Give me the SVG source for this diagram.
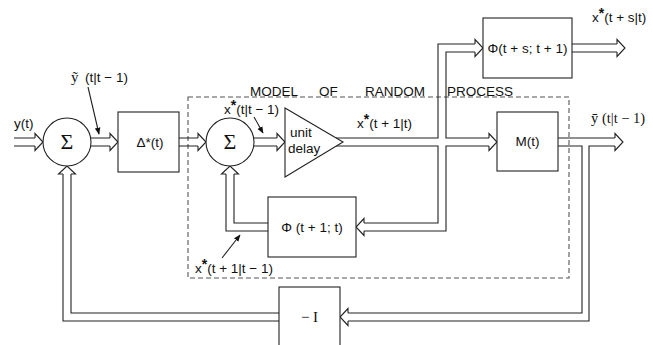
<svg xmlns="http://www.w3.org/2000/svg" width="653" height="345" viewBox="0 0 653 345">
<style>
.ln{fill:none;stroke:#222;stroke-width:1.1}
.bx{fill:#fff;stroke:#222;stroke-width:1.1}
.s{font-family:"Liberation Sans",Arial,sans-serif;font-size:13.5px;fill:#111}
.r{font-family:"Liberation Serif","Times New Roman",serif;fill:#111}
.dash{fill:none;stroke:#555;stroke-width:1.1;stroke-dasharray:5,3}
.m{text-anchor:middle}
</style>
<defs>
<path id="ah" d="M-8,-4 L-8,-8.5 L0,0 L-8,8.5 L-8,4" fill="#fff" stroke="#222" stroke-width="1.1"/>
<marker id="fa" viewBox="0 0 10 10" refX="9" refY="5" markerWidth="7" markerHeight="7" orient="auto" markerUnits="userSpaceOnUse"><path d="M0,1 L10,5 L0,9 z" fill="#111"/></marker>
</defs>
<rect width="653" height="345" fill="#fff"/>

<g id="model">
<rect class="dash" x="188" y="97" width="381" height="181"/>
<text class="s" x="250" y="96">MODEL</text>
<text class="s" x="319" y="96">OF</text>
<text class="s" x="365" y="96">RANDOM</text>
<text class="s" x="447" y="96">PROCESS</text>
</g>

<g id="connectors">
<path class="ln" d="M14,138 H35 M14,146 H35"/>
<use href="#ah" transform="translate(43,142)"/>
<path class="ln" d="M91,138 H110 M91,146 H110"/>
<use href="#ah" transform="translate(118,142)"/>
<path class="ln" d="M179,138 H198 M179,146 H198"/>
<use href="#ah" transform="translate(206,142)"/>
<path class="ln" d="M254,138 H277 M254,146 H277"/>
<use href="#ah" transform="translate(285,142)"/>
<path class="ln" d="M336,138 H438 V44 H475 M475,52 H446 V138 H489 M336,146 H438 V223 H364 M364,231 H446 V146 H489"/>
<use href="#ah" transform="translate(483,48)"/>
<use href="#ah" transform="translate(497,142)"/>
<use href="#ah" transform="translate(356,227) rotate(180)"/>
<path class="ln" d="M572,44 H617 M572,52 H617"/>
<use href="#ah" transform="translate(625,48)"/>
<path class="ln" d="M558,138 H615 M558,146 H582 V313 H348 M615,146 H589 V321 H348"/>
<use href="#ah" transform="translate(623,142)"/>
<use href="#ah" transform="translate(340,317) rotate(180)"/>
<path class="ln" d="M279,313 H71 V174 M279,321 H63 V174"/>
<use href="#ah" transform="translate(67,166) rotate(-90)"/>
<path class="ln" d="M268,223 H234 V174 M268,231 H226 V174"/>
<use href="#ah" transform="translate(230,166) rotate(-90)"/>
<line class="ln" x1="88" y1="87" x2="99" y2="134" marker-end="url(#fa)"/>
<line class="ln" x1="254" y1="117" x2="263" y2="133" marker-end="url(#fa)"/>
<line class="ln" x1="222" y1="258" x2="240" y2="235" marker-end="url(#fa)"/>
</g>

<g id="sum1">
<circle class="bx" cx="67" cy="142" r="24"/>
<text class="r m" x="67" y="149" font-size="22">Σ</text>
</g>
<g id="delta">
<rect class="bx" x="118" y="112" width="61" height="60"/>
<text class="s m" x="150" y="147">Δ*(t)</text>
</g>
<g id="sum2">
<circle class="bx" cx="230" cy="142" r="24"/>
<text class="r m" x="230" y="149" font-size="22">Σ</text>
</g>
<g id="delay">
<polygon class="bx" points="285,108 285,177 343,142"/>
<text class="s" x="290" y="137">unit</text>
<text class="s" x="288" y="153">delay</text>
</g>
<g id="phi_s">
<rect class="bx" x="483" y="18" width="89" height="60"/>
<text class="s m" x="527.5" y="53">Φ(t + s; t + 1)</text>
</g>
<g id="mt">
<rect class="bx" x="497" y="112" width="61" height="59"/>
<text class="s m" x="527.5" y="146">M(t)</text>
</g>
<g id="phi1">
<rect class="bx" x="268" y="197" width="88" height="60"/>
<text class="s m" x="312" y="232">Φ (t + 1; t)</text>
</g>
<g id="negI">
<rect class="bx" x="279" y="287" width="61" height="62"/>
<text class="r m" x="309.5" y="322" font-size="15">− I</text>
</g>

<g id="labels">
<text class="s" x="14" y="128">y(t)</text>
<text class="r" x="71" y="82" font-size="15">ỹ</text>
<text class="s" x="85" y="82">(t|t − 1)</text>
<text class="s" x="224" y="114">x<tspan dy="-4" font-size="14" font-weight="bold">*</tspan><tspan dy="4">(t|t − 1)</tspan></text>
<text class="s" x="357" y="128">x<tspan dy="-4" font-size="14" font-weight="bold">*</tspan><tspan dy="4">(t + 1|t)</tspan></text>
<text class="s" x="592" y="22">x<tspan dy="-4" font-size="14" font-weight="bold">*</tspan><tspan dy="4">(t + s|t)</tspan></text>
<text class="r" x="591" y="123" font-size="14.5">ȳ  (t|t − 1)</text>
<text class="s" x="195" y="273">x<tspan dy="-4" font-size="14" font-weight="bold">*</tspan><tspan dy="4">(t + 1|t − 1)</tspan></text>
</g>
</svg>
